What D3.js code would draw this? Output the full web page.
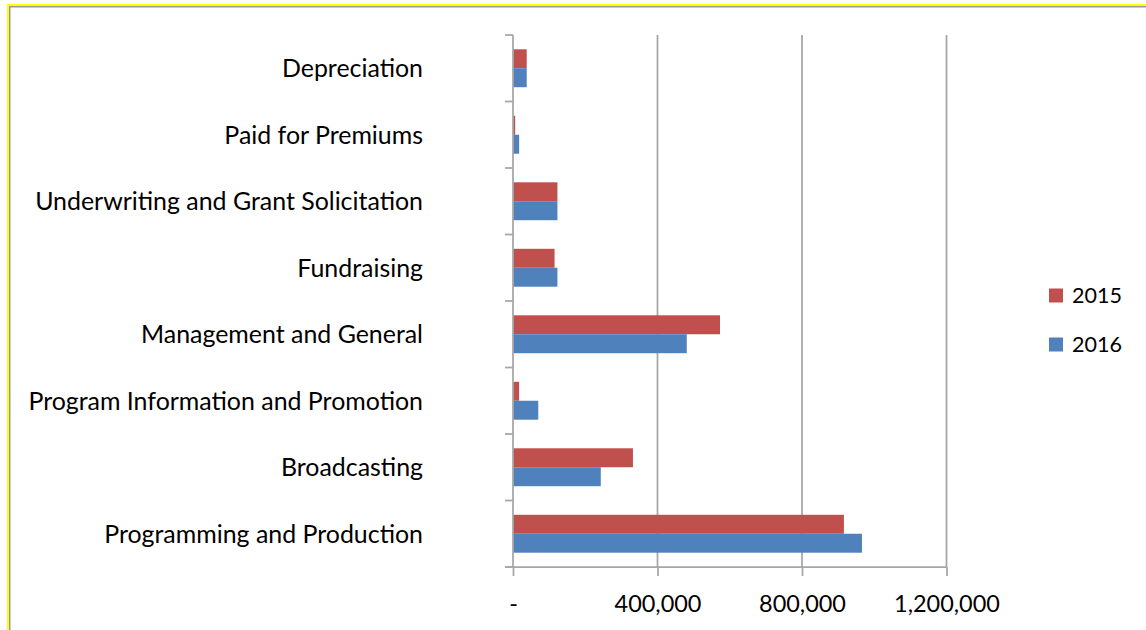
<!DOCTYPE html>
<html>
<head>
<meta charset="utf-8">
<script src="https://cdn.jsdelivr.net/npm/d3@7"></script>
<style>
  html, body { margin: 0; padding: 0; background: #fff; }
  svg { display: block; }
  text { font-family: Lato, "Liberation Sans", sans-serif; fill: #000; }
</style>
</head>
<body>
<svg id="chart" width="1146" height="630"></svg>
<script>
// ---- data ----
const categories = [
  "Depreciation",
  "Paid for Premiums",
  "Underwriting and Grant Solicitation",
  "Fundraising",
  "Management and General",
  "Program Information and Promotion",
  "Broadcasting",
  "Programming and Production"
];
const seriesNames = ["2015", "2016"];
const values2015 = [38000, 6000, 123000, 115000, 573000, 17000, 332000, 916000];
const values2016 = [38000, 17000, 123000, 123000, 481000, 70000, 243000, 966000];
const xTickValues = [0, 400000, 800000, 1200000];
const xTickLabels = ["-", "400,000", "800,000", "1,200,000"];
const colors = ["#C0504D", "#4F81BD"];

const svg = d3.select("#chart");

// frame
svg.append("rect").attr("x", 8).attr("y", 5).attr("width", 1200).attr("height", 700)
  .attr("fill", "none").attr("stroke", "#ffff00").attr("stroke-width", 2);
svg.append("rect").attr("x", 9.75).attr("y", 6.75).attr("width", 1200).attr("height", 700)
  .attr("fill", "none").attr("stroke", "#999999").attr("stroke-width", 1.5);

// font fitting helper
function fitSize(str, targetWidth, base) {
  const t = svg.append("text").attr("font-size", base).text(str);
  const w = t.node().getComputedTextLength();
  t.remove();
  return base * targetWidth / w;
}
const labelSize = fitSize("Programming and Production", 319, 22);
const tickSize = fitSize("400,000", 87, 22);
const legendSize = fitSize("2015", 50, 22);

// scales
const x = d3.scaleLinear().domain([0, 1200000]).range([513, 946.5]);
const y = d3.scaleBand().domain(categories).range([35, 567])
  .paddingInner(0.43).paddingOuter(0.215);
const ySub = d3.scaleBand().domain(seriesNames).range([0, y.bandwidth()]);

const gridColor = "#a6a6a6";

// gridlines
svg.append("g").selectAll("line").data(xTickValues.slice(1)).join("line")
  .attr("x1", d => x(d)).attr("x2", d => x(d))
  .attr("y1", 35).attr("y2", 567)
  .attr("stroke", gridColor).attr("stroke-width", 1.75);

// bars
const rows = categories.map((c, i) => ({ c, vals: [values2015[i], values2016[i]] }));
const g = svg.append("g").selectAll("g").data(rows).join("g")
  .attr("transform", d => `translate(0,${y(d.c)})`);
g.selectAll("rect").data(d => d.vals.map((v, k) => ({ v, k }))).join("rect")
  .attr("x", x(0))
  .attr("y", d => ySub(seriesNames[d.k]))
  .attr("width", d => x(d.v) - x(0))
  .attr("height", ySub.bandwidth())
  .attr("fill", d => colors[d.k]);

// x axis
const xAxis = d3.axisBottom(x).tickValues(xTickValues)
  .tickFormat((d, i) => xTickLabels[i]).tickSize(9).tickSizeOuter(0);
const xg = svg.append("g").attr("transform", "translate(0,567)").call(xAxis);
xg.select(".domain").attr("stroke", gridColor).attr("stroke-width", 1.75)
  .attr("d", `M505,0H${x(1200000)}`);
xg.selectAll(".tick line").attr("stroke", gridColor).attr("stroke-width", 1.75);
xg.selectAll(".tick text").attr("font-size", tickSize).attr("y", 0).attr("dy", null)
  .attr("transform", "translate(0,45)")
  .style("font-family", "Lato, 'Liberation Sans', sans-serif").attr("fill", "#000");
xg.attr("font-family", null);

// y axis
const yAxis = d3.axisLeft(y).tickSize(0).tickFormat("");
const yg = svg.append("g").attr("transform", `translate(${x(0)},0)`).call(yAxis);
yg.select(".domain").attr("stroke", gridColor).attr("stroke-width", 1.75)
  .attr("d", "M0,35V567");
// boundary ticks
const bounds = d3.range(categories.length + 1).map(i => 35 + i * y.step());
yg.append("g").selectAll("line").data(bounds).join("line")
  .attr("x1", -8).attr("x2", 0).attr("y1", d => d).attr("y2", d => d)
  .attr("stroke", gridColor).attr("stroke-width", 1.75);

// category labels
svg.append("g").selectAll("text").data(categories).join("text")
  .attr("x", 423)
  .attr("y", d => y(d) + y.bandwidth() / 2)
  .attr("dy", "0.36em")
  .attr("text-anchor", "end")
  .attr("font-size", labelSize)
  .text(d => d);

// legend
const legendY = [295.5, 344.5];
const lg = svg.append("g").selectAll("g").data(seriesNames).join("g")
  .attr("transform", (d, i) => `translate(1049,${legendY[i]})`);
lg.append("rect").attr("x", 0).attr("y", -7).attr("width", 14).attr("height", 14)
  .attr("fill", (d, i) => colors[i]);
lg.append("text").attr("x", 23).attr("dy", "0.36em").attr("font-size", legendSize).text(d => d);
</script>
</body>
</html>
